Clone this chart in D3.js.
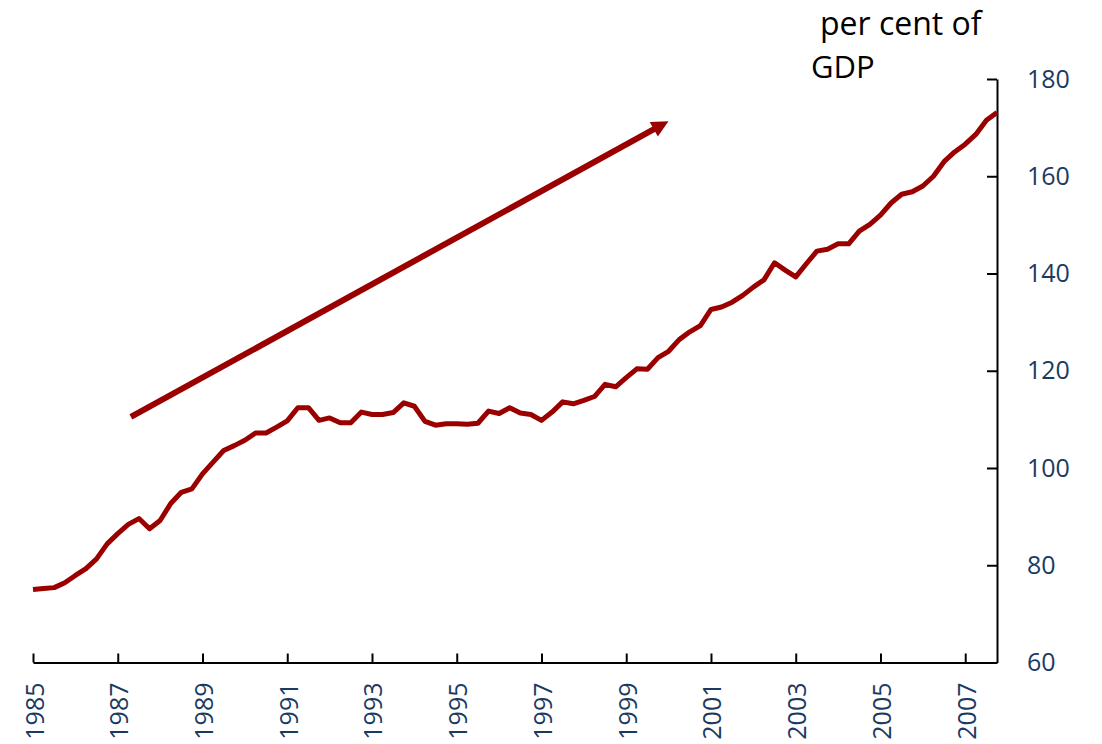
<html>
<head>
  <style>
    body { margin: 0; background: #fff; }
    svg text { font-family: "Open Sans", sans-serif; }
    svg .axis path, svg .axis line { stroke: #000; stroke-width: 2px; }
    svg .tick text { fill: #1b3a61; font-size: 25px; }
    svg .series { fill: none; stroke: #9b0000; stroke-width: 5px; stroke-linejoin: round; }
  </style>
</head>
<body>
  <div id="chart"></div>
  <script src="https://cdn.jsdelivr.net/npm/d3@7"></script>
  <script>
  // quarterly values, 1985Q1 .. 2007Q4 (per cent of GDP)
  var startYear = 1985;
  var debtRatio = [
    75.0, 75.2, 75.4, 76.4, 77.9, 79.3, 81.3, 84.4,
    86.5, 88.4, 89.6, 87.5, 89.2, 92.7, 95.0, 95.7,
    98.8, 101.2, 103.6, 104.6, 105.7, 107.2, 107.2, 108.4,
    109.7, 112.4, 112.4, 109.8, 110.3, 109.3, 109.3, 111.5,
    111.0, 111.0, 111.4, 113.4, 112.7, 109.6, 108.8, 109.1,
    109.1, 109.0, 109.2, 111.7, 111.2, 112.4, 111.3, 111.0,
    109.8, 111.5, 113.6, 113.2, 113.9, 114.7, 117.2, 116.7,
    118.6, 120.4, 120.3, 122.7, 124.0, 126.4, 128.0, 129.3,
    132.6, 133.1, 134.1, 135.5, 137.2, 138.7, 142.2, 140.7,
    139.3, 142.0, 144.6, 145.0, 146.1, 146.1, 148.7, 150.1,
    152.0, 154.5, 156.3, 156.8, 158.0, 160.0, 163.0, 165.0,
    166.6, 168.6, 171.5, 173.1
  ];
  var xTicks = d3.range(1985, 2008, 2);
  var yTicks = [60, 80, 100, 120, 140, 160, 180];
  var unitLabel = ["per cent of", "GDP"];
  // trend arrow annotation, in data units [year, value]
  var trendArrow = [[1987.31, 110.5], [1999.72, 170.0]];

  var data = debtRatio.map(function (v, i) { return { t: startYear + i / 4, v: v }; });

  var W = 1102, H = 744;
  var plot = { left: 33, right: 997, top: 79, bottom: 662.5 };

  var svg = d3.select("#chart").append("svg")
      .attr("width", W)
      .attr("height", H);

  var x = d3.scaleLinear().domain([startYear, startYear + (debtRatio.length - 1) / 4]).range([plot.left, plot.right]);
  var y = d3.scaleLinear().domain([60, 180]).range([plot.bottom, plot.top]);

  // arrow head
  svg.append("defs").append("marker")
      .attr("id", "head")
      .attr("viewBox", "0 0 10 10")
      .attr("refX", 2)
      .attr("refY", 5)
      .attr("markerWidth", 3)
      .attr("markerHeight", 2.8)
      .attr("orient", "auto")
      .attr("markerUnits", "strokeWidth")
    .append("path")
      .attr("d", "M0,0 L10,5 L0,10 z")
      .attr("fill", "#9b0000");

  // x axis
  var xAxis = d3.axisBottom(x)
      .tickValues(xTicks)
      .tickFormat(d3.format("d"))
      .tickSize(-9)
      .tickSizeOuter(0);

  var xg = svg.append("g")
      .attr("class", "axis x-axis")
      .attr("transform", "translate(0," + plot.bottom + ")")
      .call(xAxis);

  xg.selectAll(".tick text")
      .attr("transform", "rotate(-90)")
      .attr("x", -20)
      .attr("y", 1)
      .attr("dy", "0.36em")
      .style("text-anchor", "end");

  // y axis on the right, ticks pointing inward
  var yAxis = d3.axisRight(y)
      .tickValues(yTicks)
      .tickSize(-10)
      .tickSizeOuter(0)
      .tickPadding(30);

  svg.append("g")
      .attr("class", "axis y-axis")
      .attr("transform", "translate(" + plot.right + ",0)")
      .call(yAxis);

  svg.selectAll(".axis .domain").attr("stroke", "#000").attr("stroke-width", 2);
  svg.selectAll(".axis .tick line").attr("stroke", "#000").attr("stroke-width", 2);

  // series
  var line = d3.line()
      .x(function (d) { return x(d.t); })
      .y(function (d) { return y(d.v); });

  svg.append("path")
      .attr("class", "series")
      .attr("d", line(data));

  // trend arrow
  svg.append("path")
      .attr("d", d3.line()
        .x(function (d) { return x(d[0]); })
        .y(function (d) { return y(d[1]); })(trendArrow))
      .attr("stroke", "#9b0000")
      .attr("stroke-width", 6)
      .attr("fill", "none")
      .attr("marker-end", "url(#head)");

  // unit label
  svg.append("text")
      .attr("x", 820)
      .attr("y", 35)
      .text(unitLabel[0])
      .style("font-size", "32px")
      .style("fill", "#000");

  svg.append("text")
      .attr("x", 811)
      .attr("y", 78)
      .text(unitLabel[1])
      .style("font-size", "31px")
      .style("fill", "#000");
  </script>
</body>
</html>
